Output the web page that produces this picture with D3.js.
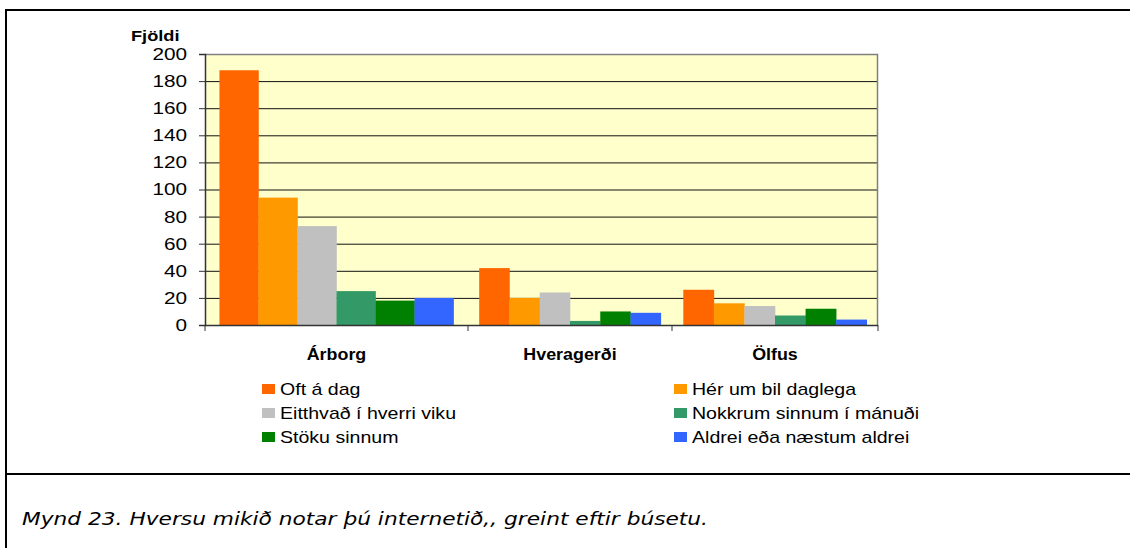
<!DOCTYPE html>
<html>
<head>
<meta charset="utf-8">
<script src="https://cdn.jsdelivr.net/npm/d3@7"></script>
<style>
  body { margin: 0; background: #fff; }
  svg { display: block; font-family: "Liberation Sans", Arial, sans-serif; }
</style>
</head>
<body>
<div id="chart"></div>
<script>
  // categories and series
  const towns = ["Árborg", "Hveragerði", "Ölfus"];
  const series = ["Oft á dag", "Hér um bil daglega", "Eitthvað í hverri viku",
                  "Nokkrum sinnum í mánuði", "Stöku sinnum", "Aldrei eða næstum aldrei"];
  const colors = ["#ff6600", "#ff9900", "#c0c0c0", "#339966", "#008000", "#3366ff"];
  const arborg = [188, 94, 73, 25, 18, 20];
  const hveragerdi = [42, 20, 24, 3, 10, 9];
  const olfus = [26, 16, 14, 7, 12, 4];
  const yTicks = [0, 20, 40, 60, 80, 100, 120, 140, 160, 180, 200];
  const caption = "Mynd 23.  Hversu mikið notar þú internetið,, greint eftir búsetu.";

  const values = [arborg, hveragerdi, olfus];

  const W = 1130, H = 548;
  const svg = d3.select("#chart").append("svg")
    .attr("width", W).attr("height", H);

  // the original picture is stretched sideways, so text is widened to match
  function widen(sel, k) {
    sel.each(function () {
      const w = this.getComputedTextLength();
      d3.select(this).attr("textLength", w * k).attr("lengthAdjust", "spacingAndGlyphs");
    });
  }

  // frame: top, left, separator above caption
  svg.append("line").attr("x1", 6).attr("x2", W).attr("y1", 10).attr("y2", 10)
    .attr("stroke", "#000").attr("stroke-width", 2);
  svg.append("line").attr("x1", 6).attr("x2", 6).attr("y1", 9).attr("y2", H)
    .attr("stroke", "#000").attr("stroke-width", 2);
  svg.append("line").attr("x1", 6).attr("x2", W).attr("y1", 474).attr("y2", 474)
    .attr("stroke", "#000").attr("stroke-width", 2);

  const plot = { left: 205, right: 878, top: 54, bottom: 325 };

  const y = d3.scaleLinear().domain([0, 200]).range([plot.bottom, plot.top]);
  // the first group is drawn wider than the other two in the original
  const groupEdge = d3.scaleLinear().domain([0, 1, 2, 3]).range([plot.left, 468, 672, plot.right]);

  svg.append("rect")
    .attr("x", plot.left).attr("y", plot.top)
    .attr("width", plot.right - plot.left).attr("height", plot.bottom - plot.top)
    .attr("fill", "#ffffcc");

  // gridlines
  svg.append("g").selectAll("line")
    .data(yTicks.filter(d => d > 0 && d < 200))
    .join("line")
    .attr("x1", plot.left).attr("x2", plot.right)
    .attr("y1", d => y(d) + 0.5).attr("y2", d => y(d) + 0.5)
    .attr("stroke", "#111").attr("stroke-width", 1);

  // plot border (top and right)
  svg.append("path")
    .attr("d", `M${plot.left},${plot.top + 0.5}H${plot.right - 0.5}V${plot.bottom}`)
    .attr("fill", "none").attr("stroke", "#808080").attr("stroke-width", 1.5);

  // bars
  towns.forEach((town, i) => {
    const x = d3.scaleBand().domain(series)
      .range([groupEdge(i), groupEdge(i + 1)])
      .paddingInner(0).paddingOuter(0.37);
    svg.append("g").selectAll("rect")
      .data(values[i])
      .join("rect")
      .attr("x", (d, j) => x(series[j]))
      .attr("width", x.bandwidth() + 0.3)
      .attr("y", d => y(d))
      .attr("height", d => plot.bottom - y(d))
      .attr("fill", (d, j) => colors[j]);
  });

  // y axis
  const yAxis = svg.append("g")
    .attr("transform", `translate(${plot.left},0)`)
    .call(d3.axisLeft(y).tickValues(yTicks).tickSize(6).tickPadding(12).tickFormat(d3.format("d")));
  yAxis.select(".domain").attr("stroke", "#333").attr("stroke-width", 1.5);
  yAxis.selectAll(".tick line").attr("stroke", "#333");
  yAxis.selectAll("text").attr("font-size", 17).attr("fill", "#000")
    .attr("font-family", "Liberation Sans, Arial, sans-serif");
  widen(yAxis.selectAll("text"), 1.22);

  // x axis baseline and group ticks
  svg.append("line").attr("x1", plot.left).attr("x2", plot.right)
    .attr("y1", plot.bottom + 0.5).attr("y2", plot.bottom + 0.5)
    .attr("stroke", "#333").attr("stroke-width", 1.5);
  svg.append("g").selectAll("line")
    .data(d3.range(towns.length + 1))
    .join("line")
    .attr("x1", d => groupEdge(d)).attr("x2", d => groupEdge(d))
    .attr("y1", plot.bottom).attr("y2", plot.bottom + 6)
    .attr("stroke", "#333");

  const townLabels = svg.append("g").selectAll("text")
    .data(towns)
    .join("text")
    .attr("x", (d, i) => (groupEdge(i) + groupEdge(i + 1)) / 2)
    .attr("y", 360)
    .attr("text-anchor", "middle")
    .attr("font-size", 17).attr("font-weight", "bold")
    .text(d => d);
  widen(townLabels, 1.05);

  const yTitle = svg.append("text")
    .attr("x", 131).attr("y", 41)
    .attr("font-size", 14).attr("font-weight", "bold")
    .text("Fjöldi");
  widen(yTitle, 1.3);

  // legend, two columns
  const legend = svg.append("g").selectAll("g")
    .data(series)
    .join("g")
    .attr("transform", (d, i) => `translate(${i % 2 === 0 ? 262 : 674},${389 + Math.floor(i / 2) * 24})`);
  legend.append("rect")
    .attr("x", 0).attr("y", -5).attr("width", 13).attr("height", 10)
    .attr("fill", (d, i) => colors[i]);
  const legendText = legend.append("text")
    .attr("x", 18).attr("y", 6)
    .attr("font-size", 17)
    .text(d => d);
  widen(legendText, 1.15);

  const cap = svg.append("text")
    .attr("x", 22).attr("y", 525)
    .attr("font-family", "DejaVu Sans, Verdana, sans-serif")
    .attr("font-style", "italic")
    .attr("font-size", 17)
    .text(caption);
  cap.attr("textLength", 686).attr("lengthAdjust", "spacingAndGlyphs");
</script>
</body>
</html>
